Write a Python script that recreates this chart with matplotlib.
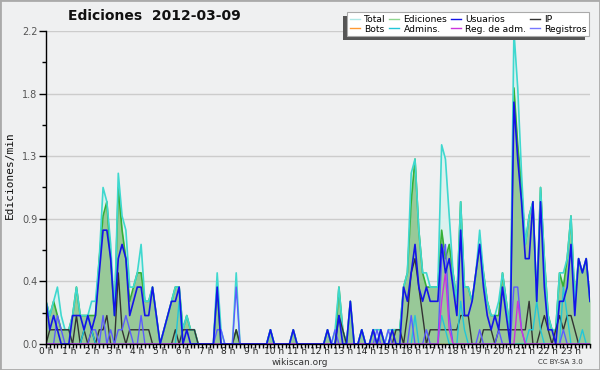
import numpy as np
import matplotlib
matplotlib.use("Agg")
import matplotlib.pyplot as plt
from matplotlib.lines import Line2D
from matplotlib.patches import Rectangle

# ---- data: 10-minute bins, edits per minute ----
hours = list(range(24))
hour_labels = [f"{h} h" for h in hours]
y_ticks = [0.0, 0.44, 0.88, 1.32, 1.76, 2.2]
y_tick_labels = ["0.0", "0.4", "0.9", "1.3", "1.8", "2.2"]

total = [0.3,0.2,0.3,0.4,0.2,0.1,0.1,0.2,0.4,0.2,0.2,0.2,
         0.3,0.3,0.6,1.1,1.0,0.7,0.2,1.2,0.9,0.8,0.4,0.4,
         0.5,0.7,0.3,0.3,0.4,0.2,0,0.1,0.2,0.3,0.4,0.4,
         0.1,0.2,0.1,0.1,0,0,0,0,0,0.5,0.1,0,
         0,0,0.5,0,0,0,0,0,0,0,0,0.1,
         0,0,0,0,0,0.1,0,0,0,0,0,0,
         0,0,0.1,0,0.1,0.4,0.1,0,0.3,0,0,0.1,
         0,0,0.1,0.1,0.1,0,0.1,0.1,0.1,0.1,0.4,0.5,
         1.2,1.3,0.8,0.5,0.5,0.4,0.4,0.4,1.4,1.3,0.9,0.5,
         0.3,1.0,0.4,0.4,0.3,0.5,0.8,0.5,0.3,0.2,0.2,0.3,
         0.5,0.3,0.1,2.2,1.8,1.2,0.7,0.9,1.0,0.3,1.1,0.6,
         0.2,0.1,0.1,0.5,0.5,0.6,0.9,0.3,0.6,0.5,0.6,0.3]

ediciones = [0.3,0.2,0.3,0.2,0.1,0.1,0.1,0.2,0.4,0.2,0.2,0.2,
             0.2,0.2,0.6,0.9,1.0,0.6,0.2,1.1,0.8,0.6,0.3,0.4,
             0.5,0.5,0.3,0.3,0.4,0.2,0,0.1,0.2,0.3,0.4,0.4,
             0.1,0.2,0.1,0.1,0,0,0,0,0,0.4,0,0,
             0,0,0.1,0,0,0,0,0,0,0,0,0.1,
             0,0,0,0,0,0.1,0,0,0,0,0,0,
             0,0,0.1,0,0,0.4,0.1,0,0.3,0,0,0.1,
             0,0,0.1,0,0.1,0,0,0.1,0.1,0.1,0.4,0.5,
             1.0,1.3,0.8,0.5,0.4,0.4,0.4,0.4,0.8,0.6,0.7,0.5,
             0.3,1.0,0.4,0.4,0.3,0.5,0.7,0.5,0.3,0.2,0.2,0.2,
             0.5,0.3,0.1,1.8,1.4,1.1,0.7,0.9,1.0,0.3,1.1,0.6,
             0.2,0.1,0.1,0.5,0.4,0.6,0.9,0.3,0.6,0.5,0.6,0.3]

usuarios = [0.3,0.1,0.2,0.1,0,0,0,0.2,0.2,0.2,0.1,0.2,
            0.1,0.2,0.5,0.8,0.8,0.6,0.2,0.6,0.7,0.6,0.2,0.3,
            0.4,0.4,0.2,0.2,0.4,0.2,0,0.1,0.2,0.3,0.3,0.4,
            0,0.1,0,0,0,0,0,0,0,0.4,0,0,
            0,0,0,0,0,0,0,0,0,0,0,0.1,
            0,0,0,0,0,0.1,0,0,0,0,0,0,
            0,0,0.1,0,0,0.2,0,0,0.3,0,0,0.1,
            0,0,0.1,0,0.1,0,0,0.1,0,0,0.4,0.3,
            0.5,0.7,0.4,0.3,0.4,0.3,0.3,0.3,0.7,0.5,0.6,0.4,
            0.2,0.8,0.2,0.2,0.3,0.5,0.7,0.4,0.2,0.1,0.2,0.1,
            0.4,0.2,0,1.7,1.3,1.0,0.6,0.6,1.0,0.3,1.0,0.4,
            0.1,0.1,0,0.3,0.3,0.4,0.7,0.2,0.6,0.5,0.6,0.3]

ip = [0,0.1,0.1,0.1,0.1,0.1,0.1,0,0.2,0,0.1,0,
      0.1,0,0.1,0.1,0.2,0,0,0.5,0.1,0,0.1,0.1,
      0.1,0.1,0.1,0.1,0,0,0,0,0,0,0.1,0,
      0.1,0.1,0.1,0.1,0,0,0,0,0,0,0,0,
      0,0,0.1,0,0,0,0,0,0,0,0,0,
      0,0,0,0,0,0,0,0,0,0,0,0,
      0,0,0,0,0,0.2,0.1,0,0,0,0,0,
      0,0,0,0,0,0,0,0,0.1,0.1,0,0.2,
      0.5,0.6,0.4,0.2,0,0.1,0.1,0.1,0.1,0.1,0.1,0.1,
      0.1,0.2,0.2,0.2,0,0,0,0.1,0.1,0.1,0,0.1,
      0.1,0.1,0.1,0.1,0.1,0.1,0.1,0.3,0,0,0.1,0.2,
      0.1,0,0.1,0.2,0.1,0.2,0.2,0.1,0,0,0,0]

bots = [0]*144

admins = [0,0,0,0,0,0,0,0,0,0,0.1,0.2,
          0.1,0,0,0,0,0,0,0,0,0,0,0,
          0,0,0,0,0,0,0,0,0,0,0,0.3,
          0,0,0,0,0,0,0,0,0,0,0,0,
          0,0,0,0,0,0,0,0,0,0,0,0.1,
          0,0,0,0,0,0,0,0,0,0,0,0,
          0,0,0,0,0,0,0,0,0,0,0,0.1,
          0,0,0,0,0,0,0,0,0,0,0,0,
          0,0.2,0,0,0,0,0,0,0.2,0.1,0,0,
          0,0.3,0.1,0,0,0,0,0,0,0,0,0,
          0,0,0,0,0,0,0,0.1,0.1,0.3,0.1,0,
          0,0,0,0,0.4,0.2,0,0,0,0.1,0,0]

reg_adm = [0,0,0,0,0,0,0,0,0,0,0,0,
           0,0,0,0,0,0,0,0,0,0,0,0,
           0,0,0,0,0,0,0,0,0,0,0,0,
           0,0,0,0,0,0,0,0,0,0,0,0,
           0,0,0,0,0,0,0,0,0,0,0,0,
           0,0,0,0,0,0,0,0,0,0,0,0,
           0,0,0,0,0,0,0,0,0,0,0,0,
           0,0,0,0,0,0,0,0,0,0,0,0,
           0,0,0,0,0,0,0,0,0.3,0.5,0.1,0,
           0,0,0,0,0,0,0,0,0,0,0,0,
           0,0,0,0,0.3,0.1,0,0,0,0,0,0,
           0,0,0,0,0,0,0,0,0,0,0,0]

registros = [0,0,0,0.2,0.1,0,0,0,0,0,0,0,
             0.1,0.1,0,0.2,0,0.1,0,0.1,0.1,0.2,0.1,0,
             0,0.2,0,0,0,0,0,0,0,0,0,0,
             0,0,0,0,0,0,0,0,0,0.1,0.1,0,
             0,0,0.4,0,0,0,0,0,0,0,0,0,
             0,0,0,0,0,0,0,0,0,0,0,0,
             0,0,0,0,0.1,0,0,0,0,0,0,0,
             0,0,0,0.1,0,0,0.1,0,0,0,0,0,
             0.2,0,0,0,0.1,0,0,0,0.6,0.7,0.2,0,
             0,0,0,0,0,0,0.1,0,0,0,0,0.1,
             0,0,0,0.4,0.4,0.1,0,0,0,0,0,0,
             0,0,0,0,0.1,0,0,0,0,0,0,0]

x = np.arange(len(total)) / 6.0

BG = "#eff0f1"
c_total_line = "#3fd8cf"
c_total_fill = "#dbf1ee"
c_ed_line = "#35b035"
c_ed_fill = "#98c998"
c_usr = "#1414e8"
c_ip = "#333333"
c_bots = "#ff9933"
c_adm = "#22c6d8"
c_regadm = "#cc33dd"
c_reg = "#5c5cff"

fig = plt.figure(figsize=(6.0, 3.7), dpi=100, facecolor=BG)
ax = fig.add_axes([46/600, 26/370, 544/600, 313/370])
ax.set_facecolor(BG)

ax.fill_between(x, total, 0, color=c_total_fill, lw=0, zorder=1)
ax.fill_between(x, ediciones, 0, color=c_ed_fill, lw=0, zorder=2)
ax.plot(x, bots, color=c_bots, lw=1, zorder=2.5)
ax.plot(x, ediciones, color=c_ed_line, lw=1.2, zorder=3)
ax.plot(x, total, color=c_total_line, lw=1.2, zorder=3.2)
ax.plot(x, ip, color=c_ip, lw=1.0, zorder=3.4)
ax.plot(x, admins, color=c_adm, lw=1.0, zorder=3.5)
ax.plot(x, registros, color=c_reg, lw=1.0, zorder=3.6)
ax.plot(x, reg_adm, color=c_regadm, lw=1.0, zorder=3.7)
ax.plot(x, usuarios, color=c_usr, lw=1.2, zorder=3.8)

ax.set_xlim(0, x[-1])
ax.set_ylim(0, 2.2)

for s in ["top", "right"]:
    ax.spines[s].set_visible(False)
for s in ["left", "bottom"]:
    ax.spines[s].set_color("black")
    ax.spines[s].set_linewidth(1.0)
    ax.spines[s].set_zorder(5)

ax.set_yticks(y_ticks)
ax.set_yticklabels(y_tick_labels, fontsize=7, color="#555555")
ax.set_yticks([0.22, 0.66, 1.10, 1.54, 1.98], minor=True)
ax.tick_params(axis="y", which="major", length=5, width=1, pad=1, color="black")
ax.tick_params(axis="y", which="minor", length=3, width=1, color="black")
ax.yaxis.grid(True, which="major", color="#cccccc", lw=1, zorder=0)
ax.set_axisbelow(True)

ax.set_xticks(hours)
ax.set_xticklabels(hour_labels, fontsize=6.5, color="#222222")
ax.set_xticks(x, minor=True)
ax.tick_params(axis="x", which="both", length=3, width=1, pad=-0.5, color="black")

fig.text(10/600, 1 - 175/370, "Ediciones/min", rotation=90, ha="center", va="center",
         family="DejaVu Sans Mono", fontsize=8, color="#111111")
fig.text(154/600, 1 - 16/370, "Ediciones  2012-03-09", ha="center", va="center",
         fontsize=10, fontweight="bold", color="#111111")
fig.text(300/600, 1 - 362.5/370, "wikiscan.org", ha="center", va="center",
         fontsize=6.5, color="#333333")
fig.text(560/600, 1 - 362.5/370, "CC BY-SA 3.0", ha="center", va="center",
         fontsize=5, color="#333333")

names = ["Total", "Bots", "Ediciones", "Admins.", "Usuarios", "Reg. de adm.", "IP", "Registros"]
cols = ["#aee8e6", c_bots, "#8fd68f", c_adm, c_usr, c_regadm, c_ip, "#7777ff"]
handles = [Line2D([], [], color=c, lw=1) for c in cols]
leg = fig.legend(handles, names, ncol=4, loc="upper left",
                 bbox_to_anchor=(347/600, 1 - 12/370), borderaxespad=0,
                 fontsize=6.6,
                 handlelength=1.1, handletextpad=0.45, columnspacing=0.4,
                 labelspacing=0.1, borderpad=0.3, frameon=True, fancybox=False,
                 framealpha=1.0)
leg.get_frame().set_facecolor("white")
leg.get_frame().set_edgecolor("#aaaaaa")
leg.get_frame().set_linewidth(0.8)
leg.set_zorder(10)

fig.canvas.draw()
bb = leg.get_window_extent().transformed(fig.transFigure.inverted())
shadow = Rectangle((bb.x0 - 4/600, bb.y0 - 4/370), bb.width, bb.height,
                   transform=fig.transFigure, facecolor="#555555", edgecolor="none", zorder=9)
fig.patches.append(shadow)

border = Rectangle((0, 0), 1, 1, transform=fig.transFigure, fill=False,
                   edgecolor="#aaaaaa", lw=2, zorder=20)
fig.patches.append(border)

fig.savefig("out.png", dpi=100, facecolor=BG)
